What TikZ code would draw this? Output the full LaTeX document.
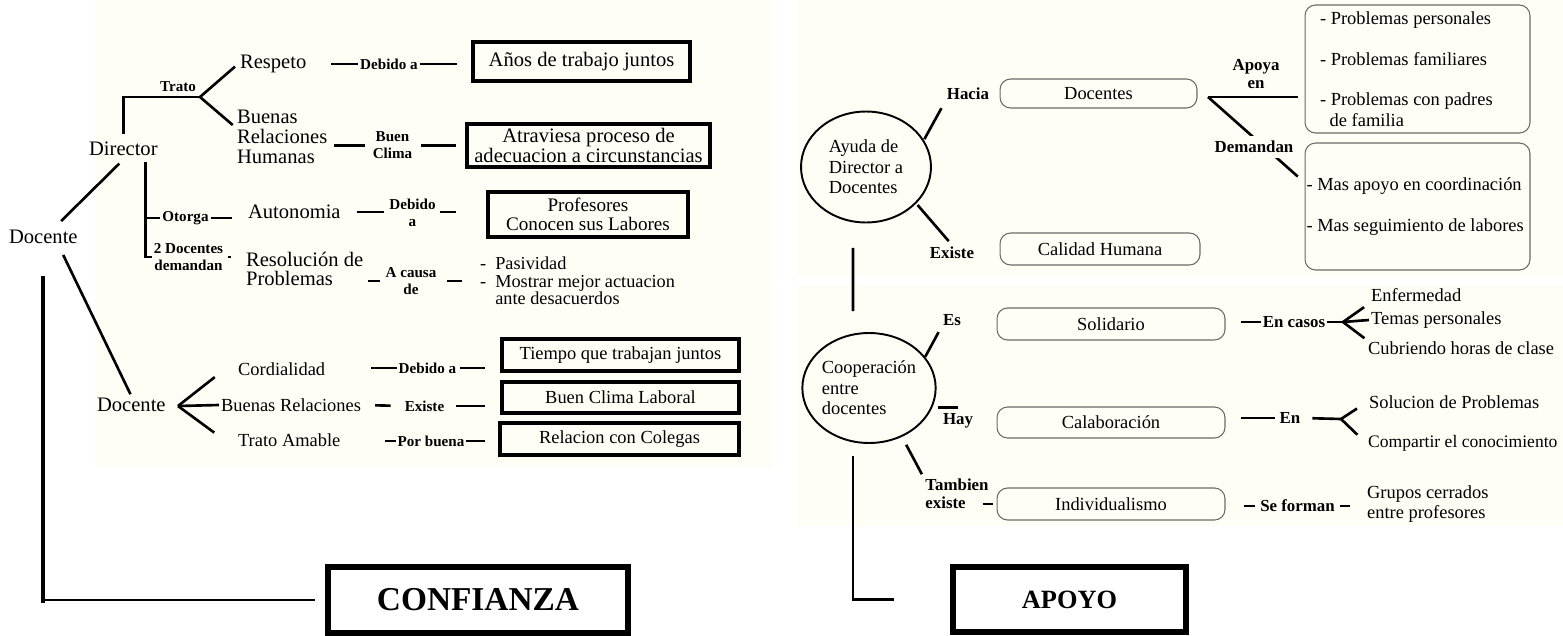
\documentclass[tikz,border=0pt]{standalone}
\usepackage{fontspec}
\setmainfont{Liberation Serif}
\usepackage{xcolor}
\usepackage{tikz}
\usetikzlibrary{positioning,shapes.geometric,calc}
\definecolor{panel}{HTML}{FFFEF6}
\definecolor{thinline}{HTML}{6A6A6A}
\newcommand\bigf{\fontsize{11.7}{11.2}\selectfont}
\newcommand\midf{\fontsize{10.5}{11.6}\selectfont}
\newcommand\lblf{\fontsize{8.6}{9.6}\selectfont\bfseries}
\newcommand\rlblf{\fontsize{9.6}{10.3}\selectfont\bfseries}
\tikzset{
  txt/.style={font=\bigf, inner sep=1pt, align=left, anchor=west},
  smtxt/.style={font=\midf, inner sep=1pt, align=left, anchor=west},
  lbl/.style={font=\lblf, inner sep=1pt, align=center},
  rlbl/.style={font=\rlblf, inner sep=1pt, align=center},
  sqbox/.style={draw, line width=1.9pt, inner sep=2pt, align=center},
  rndbox/.style={draw=thinline, line width=0.6pt, rounded corners=6pt, font=\midf, align=center},
  bubble/.style={ellipse, draw, line width=1.1pt, font=\midf, align=left, inner sep=0pt},
  bigbox/.style={draw, line width=2.9pt, font=\bfseries},
  lnk/.style={line width=1.5pt},
  heavy/.style={line width=2.4pt},
}

\begin{document}
\begin{tikzpicture}[x=0.02cm, y=-0.02cm]
  \useasboundingbox (0,0) rectangle (1563,636);

  % faint paper sheets
  \fill[panel] (95,0) rectangle (772,468);
  \fill[panel] (797,0) rectangle (1563,277);
  \fill[panel] (797,285) rectangle (1563,526);

  % ---- CONFIANZA side ----
  \node[txt] (docA) at (7,237) {Docente};
  \node[txt] (dir) at (87,149) {Director};
  \node[txt] (resp) at (238,64) {Respeto};
  \node[txt] (brh) at (235,137) {Buenas\\Relaciones\\Humanas};
  \node[txt] (auto) at (246,212) {Autonomia};
  \node[txt] (resol) at (244,269) {Resolución de\\Problemas};

  \node[lbl] (trato) at (178,87) {Trato};
  \node[lbl] (otorga) at (185.5,218) {Otorga};
  \node[lbl] (dem) at (188.5,257) {2 Docentes\\demandan};
  \node[lbl] (deb1) at (389,64) {Debido a};
  \node[lbl] (bclima) at (392.5,145.5) {Buen\\Clima};
  \node[lbl] (deb3) at (412.5,213) {Debido\\a};
  \node[lbl] (acausa) at (411,281) {A causa\\de};

  \node[sqbox, minimum width=4.34cm, minimum height=0.78cm, font=\bigf] (anos) at (581.5,61.5) {Años de trabajo juntos};
  \node[sqbox, minimum width=4.86cm, minimum height=0.86cm, font=\bigf] (atrav) at (588.5,145.5) {Atraviesa proceso de\\adecuacion a circunstancias};
  \node[sqbox, minimum width=4cm, minimum height=0.9cm, font=\fontsize{10.9}{10.6}\selectfont] (prof) at (588,214.5) {Profesores\\Conocen sus Labores};
  \node[smtxt, font=\fontsize{10.4}{9.9}\selectfont] (pasiv) at (478,281) {-\enspace Pasividad\\-\enspace Mostrar mejor actuacion\\\phantom{-\enspace}ante desacuerdos};

  \coordinate (trfork) at (200,97);
  \draw[lnk, shorten <=0.12cm] (dir.north) |- (trfork);
  \draw[lnk, shorten >=0.08cm] (trfork) -- (resp.west);
  \draw[lnk, shorten >=0.06cm] (trfork) -- (brh.168);
  \draw[lnk, shorten <=0.08cm] (dir.-22) |- (dem.west);
  \draw[lnk] (dir.-22 |- otorga.west) -- (otorga.west);
  \draw[lnk, shorten >=0.28cm] (otorga.east) -- (auto.west |- otorga.east);
  \draw[lnk, shorten <=0.06cm, shorten >=0.26cm] (dem.east) -- (resol.west |- dem.east);

  \draw[lnk, shorten <=0.46cm] (resp.east) -- (deb1.west);
  \draw[lnk, shorten >=0.28cm] (deb1.east) -- (anos.west |- deb1.east);
  \draw[lnk, shorten <=0.1cm, shorten >=0.12cm] (brh.east |- bclima.west) -- (bclima.west);
  \draw[lnk, shorten <=0.14cm, shorten >=0.18cm] (bclima.east) -- (atrav.west |- bclima.east);
  \draw[lnk, shorten <=0.28cm, shorten >=0.06cm] (auto.east) -- (deb3.west |- auto.east);
  \draw[lnk, shorten <=0.04cm, shorten >=0.6cm] (deb3.east |- auto.east) -- (prof.west |- auto.east);
  \draw[lnk, shorten <=0.06cm, shorten >=0.08cm] (resol.east |- acausa.west) -- (acausa.west);
  \draw[lnk, shorten <=0.16cm, shorten >=0.32cm] (acausa.east) -- (pasiv.west |- acausa.east);

  % Docente branch
  \node[txt] (doc2) at (95,405) {Docente};
  \node[smtxt] (cord) at (236,369) {Cordialidad};
  \node[smtxt] (brel) at (219,405) {Buenas Relaciones};
  \node[smtxt] (tam) at (236,440) {Trato Amable};
  \node[lbl] (deb2) at (427.5,368) {Debido a};
  \node[lbl] (exis) at (424.5,406) {Existe};
  \node[lbl] (porb) at (431,441) {Por buena};
  \node[sqbox, minimum width=4.74cm, minimum height=0.64cm, font=\midf] (tiempo) at (620.5,355) {Tiempo que trabajan juntos};
  \node[sqbox, minimum width=4.74cm, minimum height=0.62cm, font=\midf] (clima) at (620.5,397.5) {Buen Clima Laboral};
  \node[sqbox, minimum width=4.78cm, minimum height=0.64cm, font=\midf] (relac) at (619.5,439) {Relacion con Colegas};

  \coordinate (fk2) at (178,406);
  \draw[lnk, shorten >=0.54cm] (fk2) -- (cord.north west);
  \draw[lnk] (fk2) -- (brel.west);
  \draw[lnk, shorten >=0.54cm] (fk2) -- (tam.south west);
  \draw[lnk, shorten <=0.88cm] (cord.east |- deb2.west) -- (deb2.west);
  \draw[lnk, shorten <=0.04cm, shorten >=0.3cm] (deb2.east) -- (tiempo.west |- deb2.east);
  \draw[lnk, shorten <=0.24cm, shorten >=0.24cm] (brel.east) -- (exis.west);
  \draw[lnk, shorten <=0.2cm, shorten >=0.3cm] (exis.east) -- (clima.west |- exis.east);
  \draw[lnk, shorten <=0.84cm] (tam.east |- porb.west) -- (porb.west);
  \draw[lnk, shorten >=0.26cm] (porb.east) -- (relac.west |- porb.east);

  \draw[lnk, shorten <=0.2cm, shorten >=0.16cm] (docA.40) -- (dir.-80);
  \draw[lnk, shorten <=0.2cm, shorten >=0.04cm] (docA.-30) -- (doc2.north);

  \node[bigbox, minimum width=6cm, minimum height=1.32cm, font=\fontsize{19}{20}\selectfont\bfseries] (conf) at (478,600) {CONFIANZA};
  \draw[heavy, shorten <=0.6cm, shorten >=-0.06cm] (docA.south) -- (docA.south |- conf.west);
  \draw[lnk, shorten >=0.2cm] (docA.south |- conf.west) -- (conf.west);

  % ---- APOYO side ----
  \node[bubble, minimum width=2.6cm, minimum height=2.22cm] (ellA) at (866,167) {Ayuda de\\Director a\\Docentes};
  \node[rlbl] (hacia) at (968,94) {Hacia};
  \node[rlbl] (exis2) at (952,253) {Existe};
  \node[rndbox, minimum width=3.94cm, minimum height=0.58cm] (docs) at (1098.5,93.5) {Docentes};
  \node[rndbox, minimum width=4cm, minimum height=0.64cm] (calid) at (1100,249) {Calidad Humana};
  \node[rndbox, minimum height=2.56cm, align=flush left, inner xsep=0.3cm, text width=3.9cm] (box1) at (1417.5,69)
    {\mbox{- Problemas personales}\\[11.6pt]\mbox{- Problemas familiares}\\[11.6pt]\mbox{- Problemas con padres}\\\hspace*{5.5pt}de familia};
  \node[rndbox, minimum height=2.54cm, align=flush left, inner xsep=0.03cm, text width=4.44cm] (box2) at (1417.5,206.5)
    {\mbox{- Mas apoyo en coordinación}\\[11.6pt]\mbox{- Mas seguimiento de labores}};
  \node[rlbl] (apoyaen) at (1256,74) {Apoya\\en};

  \draw[lnk, shorten <=0.02cm, shorten >=0.14cm] (ellA.25) -- (hacia.south west);
  \draw[lnk, shorten <=0.04cm, shorten >=0.1cm] (ellA.-36) -- (exis2.north);
  \coordinate (forkD) at (1208,97);
  \draw[lnk, shorten >=0.14cm] (forkD) -- (box1.west |- forkD);
  \draw[lnk, shorten >=0.18cm] (forkD) -- (box2.168);
  \node[rlbl, fill=panel, inner ysep=3pt] (dem2) at (1254,147) {Demandan};

  \node[bubble, minimum width=2.5cm, minimum height=2.2cm] (ellB) at (869,388) {Cooperación\\entre\\docentes};
  \draw[lnk, shorten <=0.49cm, shorten >=0.42cm] ([xshift=-0.26cm]ellA.south) -- ([xshift=-0.32cm]ellB.north);

  \node[rlbl] (es) at (952,320) {Es};
  \node[rlbl] (hay) at (958,421) {Hay};
  \node[rlbl, align=left] (tamb) at (957,494) {Tambien\\existe};
  \node[rndbox, minimum width=4.56cm, minimum height=0.64cm] (soli) at (1111,324) {Solidario};
  \node[rndbox, minimum width=4.56cm, minimum height=0.62cm] (calab) at (1111,422.5) {Calaboración};
  \node[rndbox, minimum width=4.56cm, minimum height=0.64cm] (indiv) at (1111,504) {Individualismo};

  \draw[lnk, shorten >=0.1cm] (ellB.29) -- (es.south west);
  \draw[lnk, shorten <=0.12cm] (ellB.-17) -- (ellB.-17 -| hay.north);
  \draw[lnk, shorten <=0.18cm, shorten >=0.06cm] (ellB.-56) -- (tamb.north west);
  \draw[lnk, shorten <=-0.16cm, shorten >=0.08cm] (tamb.east |- indiv.west) -- (indiv.west);

  \node[rlbl] (encasos) at (1294,322) {En casos};
  \node[rlbl] (en) at (1290,418) {En};
  \node[rlbl] (sef) at (1297.5,506) {Se forman};
  \node[smtxt] (enfer) at (1369,295) {Enfermedad};
  \node[smtxt] (temas) at (1369,320) {Temas personales};
  \node[smtxt] (cubr) at (1366,348) {Cubriendo horas de clase};
  \node[smtxt] (solu) at (1367,402) {Solucion de Problemas};
  \node[smtxt, font=\fontsize{10}{11}\selectfont] (comp) at (1366,443) {Compartir el conocimiento};
  \node[smtxt, font=\fontsize{10.5}{11.2}\selectfont] (grupos) at (1365,504) {Grupos cerrados\\entre profesores};

  \coordinate (fk3) at (1343,322);
  \coordinate (fk4) at (1341,419);
  \draw[lnk, shorten <=0.3cm] (soli.east |- encasos.west) -- (encasos.west);
  \draw[lnk] (encasos.east) -- (fk3);
  \draw[lnk] (fk3) -- (temas.west);
  \draw[lnk, shorten >=0.12cm] (fk3) -- (enfer.south west);
  \draw[lnk, shorten >=0.04cm] (fk3) -- (cubr.north west);
  \draw[lnk, shorten <=0.3cm, shorten >=0.06cm] (calab.east |- en.west) -- (en.west);
  \draw[lnk, shorten <=0.2cm] (en.east) -- (fk4);
  \draw[lnk, shorten >=0.24cm] (fk4) -- (solu.west);
  \draw[lnk, shorten >=0.24cm] (fk4) -- (comp.west);
  \draw[lnk, shorten <=0.36cm, shorten >=0.06cm] (indiv.east |- sef.west) -- (sef.west);
  \draw[lnk, shorten <=0.06cm, shorten >=0.3cm] (sef.east) -- (grupos.west |- sef.east);

  \node[bigbox, minimum width=4.66cm, minimum height=1.3cm, font=\fontsize{15}{16}\selectfont\bfseries] (apoyo) at (1069.5,599.5) {APOYO};
  \draw[lnk, shorten <=0.24cm, shorten >=1.12cm] ([xshift=-0.32cm]ellB.south) |- (apoyo.west);
\end{tikzpicture}
\end{document}
